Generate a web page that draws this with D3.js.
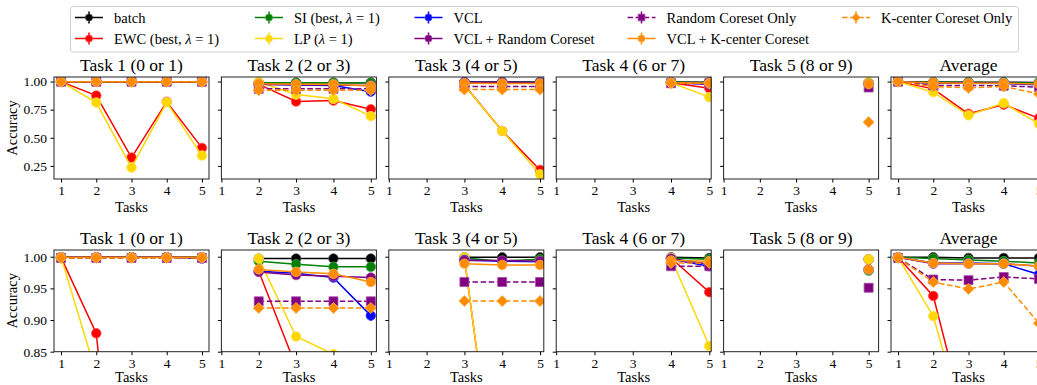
<!DOCTYPE html>
<html>
<head>
<meta charset="utf-8">
<script src="https://cdn.jsdelivr.net/npm/d3@7"></script>
<style>
  body { margin: 0; background: #fff; }
  text { font-family: "Liberation Serif", "DejaVu Serif", serif; fill: #000; }
</style>
</head>
<body>
<svg id="chart" width="1037" height="385"></svg>
<script>
const tasks = [1, 2, 3, 4, 5];
const panelTitles = ["Task 1 (0 or 1)", "Task 2 (2 or 3)", "Task 3 (4 or 5)", "Task 4 (6 or 7)", "Task 5 (8 or 9)", "Average"];
const methodNames = ["batch", "EWC (best, λ = 1)", "SI (best, λ = 1)", "LP (λ = 1)", "VCL",
  "VCL + Random Coreset", "Random Coreset Only", "VCL + K-center Coreset", "K-center Coreset Only"];
const methodColors = ["black", "red", "green", "gold", "blue", "purple", "purple", "darkorange", "darkorange"];
const methodDashed = [false, false, false, false, false, false, true, false, true];
const methodMarkers = ["circle", "circle", "circle", "circle", "circle", "circle", "square", "circle", "diamond"];
const topTicks = [0.25, 0.50, 0.75, 1.00];
const bottomTicks = [0.85, 0.90, 0.95, 1.00];

// top row: one list per method, one row of accuracies per panel (task 1..5, average)
const topBatch = [
  [0.999, 0.999, 0.999, 0.999, 0.999],
  [null, 0.990, 0.990, 0.990, 0.990],
  [null, null, 0.995, 0.995, 0.995],
  [null, null, null, 0.995, 0.993],
  [null, null, null, null, 0.990],
  [0.999, 0.995, 0.994, 0.993, 0.992]];
const topEwc = [
  [0.999, 0.875, 0.324, 0.820, 0.410],
  [null, 0.975, 0.822, 0.831, 0.753],
  [null, null, 0.970, 0.561, 0.214],
  [null, null, null, 0.990, 0.940],
  [null, null, null, null, 0.990],
  [0.999, 0.935, 0.713, 0.795, 0.674]];
const topSi = [
  [0.999, 0.998, 0.998, 0.997, 0.997],
  [null, 0.990, 0.988, 0.988, 0.988],
  [null, null, 0.995, 0.994, 0.994],
  [null, null, null, 0.993, 0.990],
  [null, null, null, null, 0.990],
  [0.999, 0.994, 0.993, 0.990, 0.990]];
const topLp = [
  [0.999, 0.813, 0.235, 0.815, 0.342],
  [null, 0.995, 0.884, 0.846, 0.692],
  [null, null, 0.965, 0.560, 0.175],
  [null, null, null, 0.990, 0.861],
  [null, null, null, null, 0.995],
  [0.999, 0.905, 0.700, 0.808, 0.624]];
const topVcl = [
  [0.999, 0.998, 0.998, 0.998, 0.997],
  [null, 0.975, 0.970, 0.965, 0.910],
  [null, null, 0.993, 0.992, 0.990],
  [null, null, null, 0.990, 0.975],
  [null, null, null, null, 0.980],
  [0.999, 0.987, 0.985, 0.982, 0.970]];
const topVclRandom = [
  [0.999, 0.998, 0.998, 0.998, 0.998],
  [null, 0.975, 0.972, 0.970, 0.965],
  [null, null, 0.993, 0.993, 0.992],
  [null, null, null, 0.990, 0.978],
  [null, null, null, null, 0.975],
  [0.999, 0.987, 0.985, 0.984, 0.980]];
const topRandomOnly = [
  [0.998, 0.998, 0.998, 0.998, 0.998],
  [null, 0.935, 0.935, 0.935, 0.935],
  [null, null, 0.956, 0.956, 0.956],
  [null, null, null, 0.985, 0.985],
  [null, null, null, null, 0.947],
  [0.998, 0.965, 0.965, 0.962, 0.950]];
const topVclKcenter = [
  [0.999, 0.999, 0.999, 0.999, 0.999],
  [null, 0.980, 0.975, 0.975, 0.960],
  [null, null, 0.985, 0.983, 0.983],
  [null, null, null, 0.990, 0.985],
  [null, null, null, null, 0.977],
  [0.999, 0.990, 0.985, 0.984, 0.978]];
const topKcenterOnly = [
  [0.998, 0.998, 0.998, 0.998, 0.998],
  [null, 0.923, 0.923, 0.923, 0.923],
  [null, null, 0.929, 0.929, 0.929],
  [null, null, null, 0.985, 0.985],
  [null, null, null, null, 0.639],
  [0.998, 0.956, 0.944, 0.956, 0.890]];

// bottom row
const bottomBatch = [
  [0.999, 0.999, 0.999, 0.999, 0.999],
  [null, 0.997, 0.997, 0.997, 0.997],
  [null, null, 0.999, 0.999, 0.999],
  [null, null, null, 0.999, 0.998],
  [null, null, null, null, 0.996],
  [0.999, 0.999, 0.998, 0.998, 0.998]];
const bottomEwc = [
  [0.999, 0.879, 0.340, 0.300, 0.250],
  [null, 0.977, 0.826, 0.700, 0.600],
  [null, null, 0.998, 0.550, 0.300],
  [null, null, null, 0.998, 0.944],
  [null, null, null, null, 0.996],
  [0.999, 0.938, 0.720, 0.650, 0.600]];
const bottomSi = [
  [0.999, 0.999, 0.999, 0.999, 0.999],
  [null, 0.993, 0.988, 0.984, 0.984],
  [null, null, 0.998, 0.993, 0.996],
  [null, null, null, 0.998, 0.996],
  [null, null, null, null, 0.978],
  [0.999, 0.997, 0.995, 0.993, 0.990]];
const bottomLp = [
  [0.999, 0.815, 0.260, 0.200, 0.200],
  [null, 0.997, 0.874, 0.846, 0.800],
  [null, null, 0.999, 0.550, 0.300],
  [null, null, null, 0.998, 0.859],
  [null, null, null, null, 0.996],
  [0.999, 0.906, 0.710, 0.600, 0.550]];
const bottomVcl = [
  [0.999, 0.999, 0.999, 0.999, 0.997],
  [null, 0.977, 0.974, 0.967, 0.907],
  [null, null, 0.995, 0.993, 0.992],
  [null, null, null, 0.996, 0.985],
  [null, null, null, null, 0.980],
  [0.999, 0.990, 0.990, 0.989, 0.972]];
const bottomVclRandom = [
  [0.999, 0.999, 0.999, 0.999, 0.999],
  [null, 0.976, 0.971, 0.969, 0.967],
  [null, null, 0.994, 0.994, 0.993],
  [null, null, null, 0.997, 0.988],
  [null, null, null, null, 0.980],
  [0.999, 0.989, 0.989, 0.989, 0.985]];
const bottomRandomOnly = [
  [0.998, 0.998, 0.998, 0.998, 0.998],
  [null, 0.9295, 0.9295, 0.9295, 0.9295],
  [null, null, 0.960, 0.960, 0.960],
  [null, null, null, 0.985, 0.985],
  [null, null, null, null, 0.951],
  [0.998, 0.964, 0.963, 0.968, 0.965]];
const bottomVclKcenter = [
  [0.999, 0.999, 0.999, 0.999, 0.999],
  [null, 0.980, 0.976, 0.973, 0.960],
  [null, null, 0.989, 0.987, 0.987],
  [null, null, null, 0.994, 0.993],
  [null, null, null, null, 0.980],
  [0.999, 0.990, 0.989, 0.989, 0.985]];
const bottomKcenterOnly = [
  [0.998, 0.998, 0.998, 0.998, 0.998],
  [null, 0.919, 0.919, 0.919, 0.919],
  [null, null, 0.930, 0.930, 0.930],
  [null, null, null, 0.990, 0.990],
  [null, null, null, null, 0.640],
  [0.998, 0.960, 0.949, 0.960, 0.895]];
// the one error bar that is big enough to see (bottom row, VCL, task 2)
const bottomVclTask2Err = [null, 0.002, 0.002, 0.003, 0.008];

const topSeries = [topBatch, topEwc, topSi, topLp, topVcl, topVclRandom, topRandomOnly, topVclKcenter, topKcenterOnly];
const bottomSeries = [bottomBatch, bottomEwc, bottomSi, bottomLp, bottomVcl, bottomVclRandom, bottomRandomOnly, bottomVclKcenter, bottomKcenterOnly];

// layout
const panelLeft = 54, panelStep = 167.4, panelW = 155;
const xMins = [0.8, 1, 1, 1, 1, 0.8];
const xMaxs = [5.2, 5.15, 5.1, 5.05, 5.275, 5.2];

const topVals = topSeries.flat(2).filter(v => v != null);
const [tMin, tMax] = d3.extent(topVals);
const tPad = (tMax - tMin) * 0.05;

const rows = [
  { series: topSeries, y0: 77, h: 102, domain: [tMin - tPad, tMax + tPad], ticks: topTicks, labelGap: 33 },
  { series: bottomSeries, y0: 250, h: 101.7, domain: [0.85, 1.0106], ticks: bottomTicks, labelGap: 30.5 }
];

const svg = d3.select("#chart");

function markerPath(type, size) {
  if (type === "square") return d3.symbol(d3.symbolSquare, size * 81 / 72)();
  if (type === "diamond") return d3.symbol(d3.symbolSquare, size * 62 / 72)();
  return d3.symbol(d3.symbolCircle, size)();
}

function drawMarker(g, type, x, y, color, size) {
  g.append("path")
    .attr("d", markerPath(type, size))
    .attr("transform", `translate(${x},${y})` + (type === "diamond" ? " rotate(45)" : ""))
    .attr("fill", color)
    .attr("stroke", d3.interpolateRgb(color, "white")(0.3))
    .attr("stroke-width", 0.8);
}

rows.forEach((row, r) => {
  const y = d3.scaleLinear().domain(row.domain).range([row.h, 0]);

  panelTitles.forEach((title, p) => {
    const x = d3.scaleLinear().domain([xMins[p], xMaxs[p]]).range([0, panelW]);
    const g = svg.append("g")
      .attr("transform", `translate(${panelLeft + p * panelStep},${row.y0})`);

    const clipId = `clip-${r}-${p}`;
    g.append("clipPath").attr("id", clipId)
      .append("rect").attr("width", panelW).attr("height", row.h);

    const plot = g.append("g").attr("clip-path", `url(#${clipId})`);

    row.series.forEach((s, m) => {
      const vals = s[p];
      const pts = tasks.map((t, i) => ({ t, v: vals[i], i })).filter(d => d.v != null);
      const color = methodColors[m];
      plot.append("path")
        .datum(pts)
        .attr("fill", "none")
        .attr("stroke", color)
        .attr("stroke-width", 1.5)
        .attr("stroke-dasharray", methodDashed[m] ? "5.5,2.6" : null)
        .attr("d", d3.line().x(d => x(d.t)).y(d => y(d.v)));

      if (r === 1 && p === 1 && m === 4) {
        pts.forEach(d => {
          const e = bottomVclTask2Err[d.i];
          if (!e) return;
          plot.append("line")
            .attr("x1", x(d.t)).attr("x2", x(d.t))
            .attr("y1", y(d.v - e)).attr("y2", y(d.v + e))
            .attr("stroke", color).attr("stroke-width", 1.5);
        });
      }
      pts.forEach(d => drawMarker(plot, methodMarkers[m], x(d.t), y(d.v), color, 72));
    });

    // frame
    g.append("rect")
      .attr("width", panelW).attr("height", row.h)
      .attr("fill", "none").attr("stroke", "#222").attr("stroke-width", 1);

    const xAxis = g.append("g")
      .attr("transform", `translate(0,${row.h})`)
      .call(d3.axisBottom(x).tickValues(tasks).tickFormat(d3.format("d")).tickSize(3.5).tickPadding(3));
    xAxis.select(".domain").remove();
    xAxis.selectAll("text").style("font-size", "13.5px").attr("font-family", null);

    const yAxis = g.append("g")
      .call(d3.axisLeft(y).tickValues(row.ticks).tickFormat(p === 0 ? d3.format(".2f") : "").tickSize(3.5).tickPadding(3.5));
    yAxis.select(".domain").remove();
    yAxis.selectAll("text").style("font-size", "13.5px").attr("font-family", null);

    g.append("text")
      .attr("x", panelW / 2).attr("y", -6)
      .attr("text-anchor", "middle")
      .style("font-size", "17.5px")
      .text(title);

    g.append("text")
      .attr("x", panelW / 2).attr("y", row.h + row.labelGap)
      .attr("text-anchor", "middle")
      .style("font-size", "14.5px")
      .text("Tasks");

    if (p === 0) {
      g.append("text")
        .attr("transform", `translate(-37,${row.h / 2}) rotate(-90)`)
        .attr("text-anchor", "middle")
        .style("font-size", "14.5px")
        .text("Accuracy");
    }
  });
});

// legend
const legend = svg.append("g");
legend.append("rect")
  .attr("x", 70.5).attr("y", 6.5).attr("width", 948).attr("height", 45.5)
  .attr("rx", 3)
  .attr("fill", "white").attr("stroke", "#d0d0d0").attr("stroke-width", 1);

const legendCols = [75, 255, 414.5, 627.5, 842];
const legendRows = [17.5, 38.5];

methodNames.forEach((name, m) => {
  const cx = legendCols[Math.floor(m / 2)];
  const cy = legendRows[m % 2];
  const color = methodColors[m];
  const item = legend.append("g");
  item.append("line")
    .attr("x1", cx).attr("x2", cx + 28).attr("y1", cy).attr("y2", cy)
    .attr("stroke", color).attr("stroke-width", 1.5)
    .attr("stroke-dasharray", methodDashed[m] ? "5.5,2.6" : null);
  item.append("line")
    .attr("x1", cx + 14).attr("x2", cx + 14).attr("y1", cy - 6).attr("y2", cy + 6)
    .attr("stroke", color).attr("stroke-width", 1.5);
  drawMarker(item, methodMarkers[m], cx + 14, cy, color, 40);

  const label = item.append("text")
    .attr("x", cx + 39).attr("y", cy + 5)
    .style("font-size", "14.5px");
  const parts = name.split("λ");
  label.append("tspan").text(parts[0]);
  if (parts.length > 1) {
    label.append("tspan").attr("font-style", "italic").text("λ");
    label.append("tspan").text(parts[1]);
  }
});
</script>
</body>
</html>
